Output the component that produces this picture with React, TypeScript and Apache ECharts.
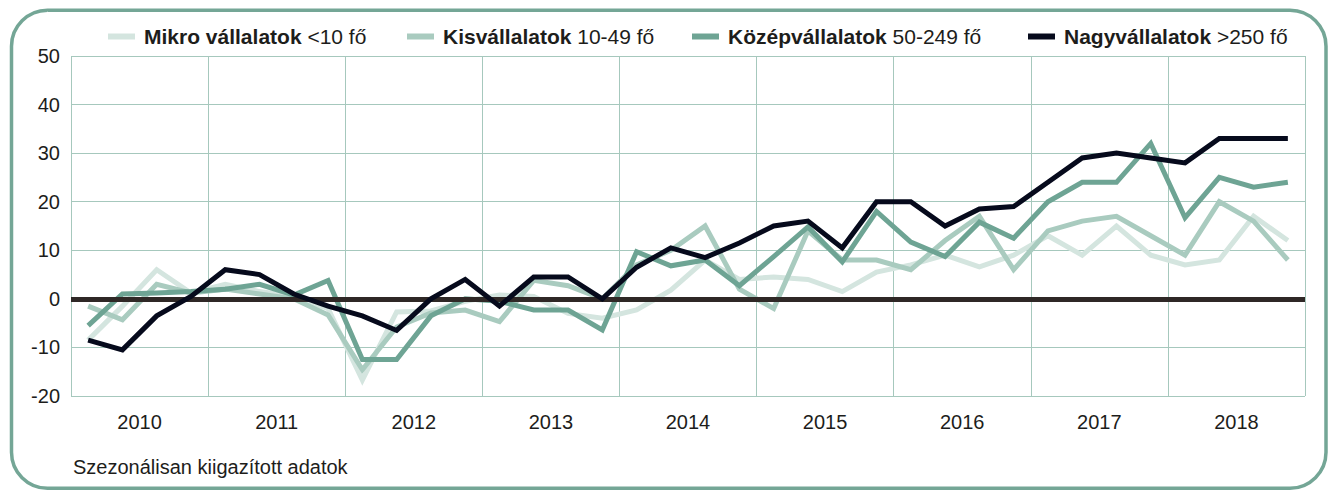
import React, { useEffect, useRef } from "react";
import * as echarts from "echarts";

const years = ["2010", "2011", "2012", "2013", "2014", "2015", "2016", "2017", "2018"];
const quarterNames = ["Q1", "Q2", "Q3", "Q4"];
const quarters = years.flatMap((y) => quarterNames.map((q) => `${y} ${q}`));

const legendBold = ["Mikro vállalatok", "Kisvállalatok", "Középvállalatok", "Nagyvállalatok"];
const legendRange = ["<10 fő", "10-49 fő", "50-249 fő", ">250 fő"];

const mikro = [-8.5, -1.5, 6, 1.2, 3, 1.5, 0.5, -2, -16.7, -2.7, -2.5, -0.5, 0.8, 0.5, -3, -4, -2.3, 1.8, 8, 4, 4.5, 4, 1.5, 5.5, 7, 9, 6.6, 9, 13, 9, 15, 9, 7, 8, 17, 12];
const kis = [-1.5, -4.3, 3, 1.2, 2, 1, 0, -3.3, -14.6, -5.8, -2.9, -2.3, -4.7, 3.8, 2.7, 0, 7, 10, 15, 2, -2, 14, 8, 8, 6, 12, 17, 6, 14, 16, 17, 13, 9, 20, 16, 8];
const kozep = [-5.5, 1, 1.2, 1.5, 2, 3, 0.8, 3.8, -12.5, -12.5, -3.5, 0, -0.5, -2.3, -2.3, -6.4, 9.7, 6.8, 8, 2.7, 8.7, 14.8, 7.6, 18, 11.7, 8.7, 15.8, 12.5, 20, 24, 24, 32, 16.7, 25, 23, 24];
const nagy = [-8.5, -10.5, -3.5, 0.5, 6, 5, 1, -1.5, -3.5, -6.5, 0, 4, -1.5, 4.5, 4.5, 0, 6.5, 10.5, 8.5, 11.5, 15, 16, 10.5, 20, 20, 15, 18.5, 19, 24, 29, 30, 29, 28, 33, 33, 33];

const seriesData = [mikro, kis, kozep, nagy];
const colors = ["#d4e5df", "#a9cbbf", "#6ea494", "#060a1c"];
const legendLeft = [108, 407, 692, 1028];

const yMin = -20;
const yMax = 50;
const yInterval = 10;

const FONT = '"Liberation Sans", Arial, Helvetica, sans-serif';
const TEXT = "#1d1d1b";
const GRIDC = "#a6c8bd";

export default function App() {
  const ref = useRef<HTMLDivElement>(null);
  useEffect(() => {
    if (!ref.current) return;
    const chart = echarts.init(ref.current, null, { renderer: "svg" });
    const names = legendBold.map((b, i) => `${b} ${legendRange[i]}`);
    const option: any = {
      animation: false,
      textStyle: { fontFamily: FONT },
      grid: { left: 71, right: 30, top: 56, bottom: 96, containLabel: false },
      legend: names.map((n, i) => ({
        data: [n],
        left: legendLeft[i],
        top: 26,
        padding: 0,
        icon: "rect",
        itemWidth: 27,
        itemHeight: 6,
        selectedMode: false,
        formatter: () => `{b|${legendBold[i]}} {r|${legendRange[i]}}`,
        textStyle: {
          fontFamily: FONT,
          fontSize: 21,
          color: TEXT,
          padding: [0, 0, 0, 4],
          rich: {
            b: { fontFamily: FONT, fontSize: 21, fontWeight: "bold", color: TEXT },
            r: { fontFamily: FONT, fontSize: 21, color: TEXT },
          },
        },
      })),
      xAxis: [
        { type: "category", data: quarters, show: false, boundaryGap: true },
        {
          type: "category",
          data: years,
          position: "bottom",
          boundaryGap: true,
          axisLine: { show: false },
          axisTick: { show: false },
          axisLabel: { fontSize: 20, color: TEXT, margin: 16, fontFamily: FONT },
          splitLine: { show: true, lineStyle: { color: GRIDC, width: 1 } },
        },
      ],
      yAxis: {
        type: "value",
        min: yMin,
        max: yMax,
        interval: yInterval,
        axisLine: { show: false },
        axisTick: { show: false },
        axisLabel: { fontSize: 20, color: TEXT, margin: 11, fontFamily: FONT },
        splitLine: { lineStyle: { color: GRIDC, width: 1 } },
      },
      series: names.map((n, i) => ({
        name: n,
        type: "line",
        xAxisIndex: 0,
        data: seriesData[i],
        showSymbol: false,
        symbol: "none",
        color: colors[i],
        z: 2 + i,
        lineStyle: { width: 5, color: colors[i], join: "miter", cap: "butt" },
        markLine:
          i === 0
            ? {
                silent: true,
                symbol: ["none", "none"],
                label: { show: false },
                lineStyle: { color: "#2f2826", width: 5, type: "solid" },
                data: [{ yAxis: 0 }],
              }
            : undefined,
      })),
      graphic: [
        {
          type: "rect",
          shape: { x: 11.5, y: 10.3, width: 1314.5, height: 478, r: 36 },
          style: { fill: "none", stroke: "#74a696", lineWidth: 3.5 },
          silent: true,
        },
        {
          type: "text",
          x: 73,
          y: 467,
          style: {
            text: "Szezonálisan kiigazított adatok",
            fontSize: 20,
            fontFamily: FONT,
            fill: TEXT,
            textVerticalAlign: "middle",
          },
        },
      ],
    };
    chart.setOption(option);
    return () => chart.dispose();
  }, []);
  return (
    <div
      ref={ref}
      style={{ position: "fixed", left: 0, top: 0, width: 1335, height: 492, background: "#fff" }}
    />
  );
}
